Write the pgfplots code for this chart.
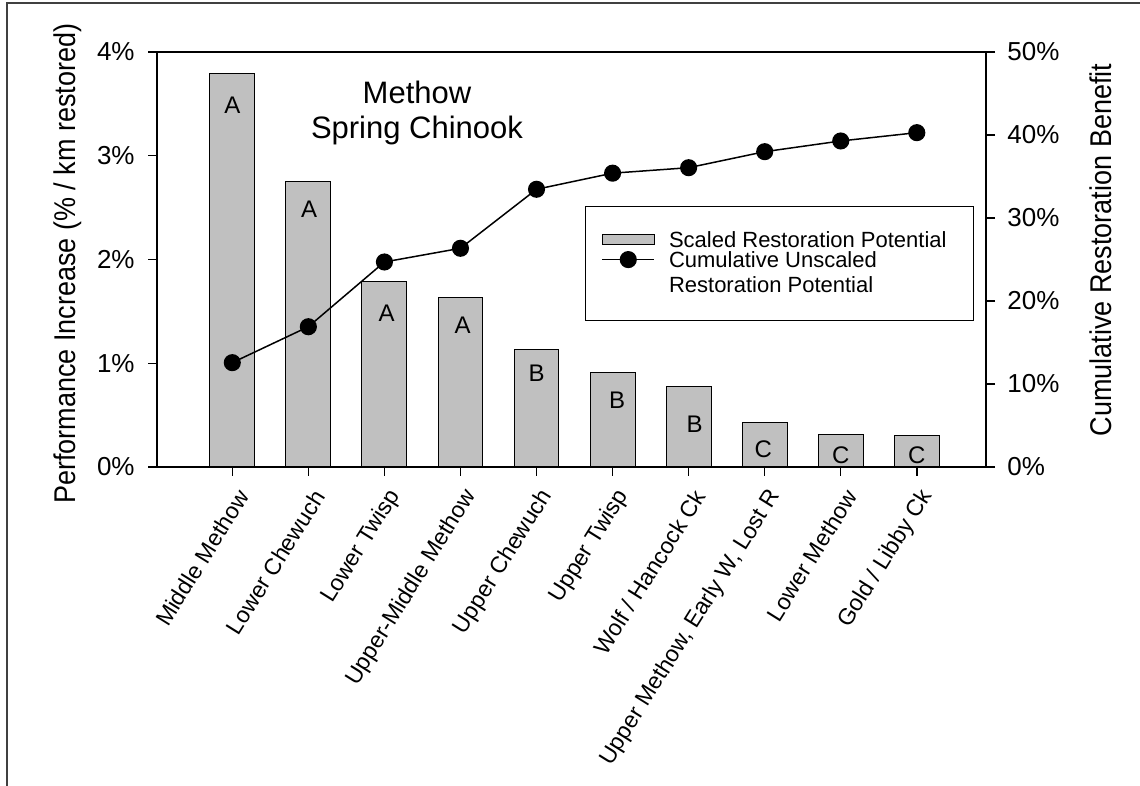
\documentclass[border=0pt]{standalone}
\usepackage{pgfplots}
\pgfplotsset{compat=1.18}
\usepackage{fontspec}
\setmainfont{Liberation Sans}
\newfontfamily\condfont{Liberation Sans}[FakeStretch=0.9]
\definecolor{barfill}{RGB}{192,192,192}

\pgfplotsset{
  base/.style={
    scale only axis, width=414.5pt, height=207.5pt,
    at={(78.5pt,159.5pt)}, anchor=south west,
    xmin=-0.99, xmax=9.91,
    tick align=outside, major tick length=4.5pt,
    every tick/.style={black, line width=0.7pt},
    axis line style={line width=0.75pt},
    ylabel style={font=\condfont\fontsize{15}{18}\selectfont, anchor=center},
    yticklabel style={font=\fontsize{13}{15}\selectfont, inner sep=0pt},
  }
}

\begin{document}
\begin{tikzpicture}
\begin{scope}[x=0.5pt, y=0.5pt]
\useasboundingbox (0,0) rectangle (1140,786);
\draw[black!75, line width=0.6pt] (7,0) -- (7,783) -- (1140,783);
\end{scope}

% bars, left axis
\begin{axis}[base,
  ymin=0, ymax=4, ytick={0,1,2,3,4},
  yticklabels={0\%,1\%,2\%,3\%,4\%},
  ytick pos=left, xtick pos=bottom,
  yticklabel style={xshift=-6.5pt},
  xtick={0,...,9},
  xticklabels={Middle Methow, Lower Chewuch, Lower Twisp, Upper-Middle Methow,
    Upper Chewuch, Upper Twisp, Wolf / Hancock Ck, {Upper Methow, Early W, Lost R},
    Lower Methow, Gold / Libby Ck},
  xticklabel style={font=\fontsize{11.5}{13}\selectfont, inner sep=0pt,
    xshift=5.5pt, yshift=-8pt, rotate=58, anchor=east},
  ylabel={Performance Increase (\% / km restored)},
  ylabel style={at={(axis description cs:-0.1074,0.49)}},
]
\addplot[ybar, bar width=0.59, fill=barfill, draw=black, line width=0.5pt]
  coordinates {(0,3.79) (1,2.75) (2,1.79) (3,1.63) (4,1.13)
               (5,0.91) (6,0.78) (7,0.43) (8,0.31) (9,0.30)};
\begin{scope}[every node/.style={font=\fontsize{12}{14}\selectfont, inner sep=0pt}]
\node at (axis cs:0,3.49) {A};
\node at (axis cs:1.01,2.48) {A};
\node at (axis cs:2.03,1.48) {A};
\node at (axis cs:3.03,1.37) {A};
\node at (axis cs:4,0.90) {B};
\node at (axis cs:5.06,0.64) {B};
\node at (axis cs:6.08,0.41) {B};
\node at (axis cs:6.98,0.17) {C};
\node at (axis cs:8,0.11) {C};
\node at (axis cs:9,0.11) {C};
\end{scope}
\node[font=\fontsize{15.5}{18}\selectfont, anchor=base] at (rel axis cs:0.3136,0.8771) {Methow};
\node[font=\fontsize{15.5}{18}\selectfont, anchor=base] at (rel axis cs:0.3136,0.7904) {Spring Chinook};
\end{axis}

% cumulative line, right axis
\begin{axis}[base,
  ymin=0, ymax=50, ytick={0,10,20,30,40,50},
  yticklabels={0\%,10\%,20\%,30\%,40\%,50\%},
  axis x line=none, axis y line*=right,
  yticklabel style={xshift=6pt},
  ylabel={Cumulative Restoration Benefit},
  ylabel style={at={(axis description cs:1.1387,0.523)}},
  legend style={at={(axis description cs:0.5163,0.6289)}, anchor=north west,
    draw=black, line width=0.5pt, inner xsep=8pt, inner ysep=12.5pt,
    font=\fontsize{11}{13}\selectfont, row sep=0.3pt,
    nodes={inner sep=0pt, anchor=base west},
    /tikz/every odd column/.append style={column sep=7pt}},
  legend cell align=left,
]
\addlegendimage{legend image code/.code={
  \draw[fill=barfill, draw=black, line width=0.5pt] (0pt,1.3pt) rectangle (26pt,6.3pt);}}
\addlegendentry{\makebox[144pt][l]{Scaled Restoration Potential}}
\addplot[black, line width=0.75pt, mark=*, mark size=3.9pt,
  mark options={fill=black, draw=black},
  legend image code/.code={
    \draw[black, line width=0.75pt] (0pt,3.8pt) -- (26pt,3.8pt);
    \fill[black] (13pt,3.8pt) circle (3.9pt);}]
  coordinates {(0,12.57) (1,16.9) (2,24.7) (3,26.35) (4,33.46)
               (5,35.4) (6,36.06) (7,37.99) (8,39.28) (9,40.28)};
\addlegendentry{Cumulative Unscaled}
\addlegendimage{legend image code/.code={}}
\addlegendentry{\rule{0pt}{11pt}Restoration Potential}
\end{axis}
\end{tikzpicture}
\end{document}
